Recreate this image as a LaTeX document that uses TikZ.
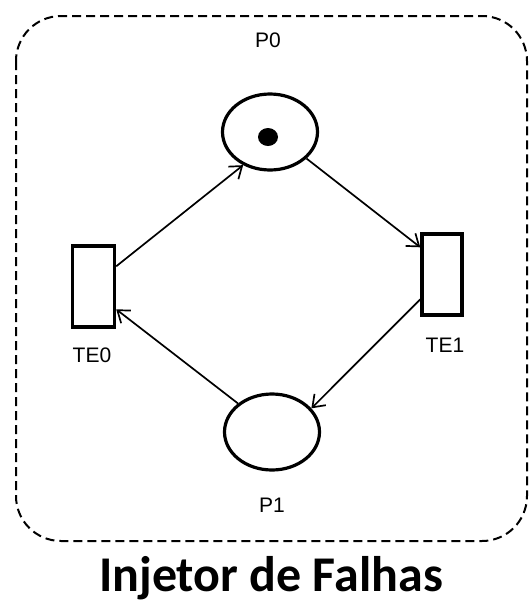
\documentclass[tikz,border=0pt]{standalone}
\usepackage{fontspec}
\setmainfont{Liberation Sans}
\newfontfamily\titlefont{Carlito}
\usetikzlibrary{shapes.geometric,arrows.meta,calc}
\begin{document}
\begin{tikzpicture}[x=1pt,y=-1pt,
  place/.style={draw,ellipse,line width=3.2pt,minimum width=95pt,minimum height=76pt,inner sep=0pt},
  trans/.style={draw,rectangle,line width=3.4pt,minimum width=40pt,minimum height=81pt,inner sep=0pt},
  arc/.style={line width=1.7pt,-{Straight Barb[length=11pt,width=16pt,line width=1.7pt]}},
  lbl/.style={font=\fontsize{21}{21}\selectfont,inner sep=0pt}]
\useasboundingbox (0,0) rectangle (529,608);
\draw[line width=2pt,dash pattern=on 9pt off 5pt,rounded corners=45pt] (16,16) rectangle (527,541);
\node[place] (p0) at (270,132) {};
\fill ($(p0.center)+(-2,5)$) circle[x radius=10pt,y radius=9pt];
\node[place] (p1) at (272,432) {};
\node[trans,minimum width=42pt] (te0) at (93.5,286.5) {};
\node[trans] (te1) at (442,274.5) {};
\node[lbl] (lp0) at (268,40) {P0};
\node[lbl] (lte0) at (92,355) {TE0};
\node[lbl] (lte1) at (445,345) {TE1};
\node[lbl] (lp1) at (272,505) {P1};
\node[font=\titlefont\bfseries\fontsize{50}{50}\selectfont,inner sep=0pt] (title) at (271,578) {Injetor de Falhas};
\draw[arc] ($(te0.north east)+(0,22)$) -- (p0.-129);
\draw[arc] (p0.-36) -- ($(te1.north west)+(0,15)$);
\draw[arc] ($(te1.north west)+(0,67)$) -- (p1.31);
\draw[arc] (p1.140) -- ($(te0.north east)+(0,65)$);
\end{tikzpicture}
\end{document}
